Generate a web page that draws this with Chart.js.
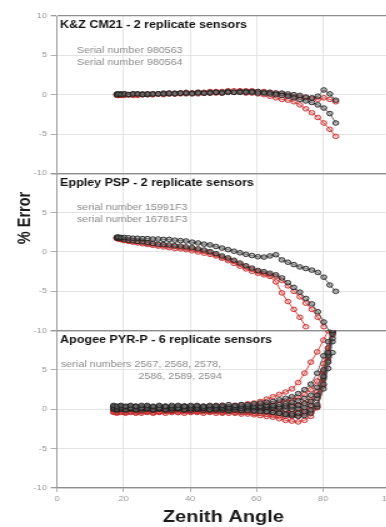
<!DOCTYPE html>
<html><head><meta charset="utf-8">
<script src="https://cdn.jsdelivr.net/npm/chart.js@4"></script>
<style>
html,body{margin:0;padding:0;overflow:hidden;background:#fff;width:386px;height:527px}
#wrap{position:absolute;left:0;top:0;width:320px;height:527px;transform:scaleX(1.25);transform-origin:0 0}
</style></head><body>
<div id="wrap"><canvas id="c"></canvas></div>
<script>
// ---------- data ----------
const xTicks = [0, 20, 40, 60, 80, 100];
const yTicks = [-10, -5, 0, 5, 10];
const panelTitles = ["K&Z CM21 - 2 replicate sensors", "Eppley PSP - 2 replicate sensors", "Apogee PYR-P - 6 replicate sensors"];
const panelNotes = [
  ["Serial number 980563", "Serial number 980564"],
  ["serial number 15991F3", "serial number 16781F3"],
  ["serial numbers 2567, 2568, 2578,", "2586, 2589, 2594"]
];

// zenith angles for the K&Z and Eppley panels
const anglesA = [18,18.5,19.3,20.3,21.5,22.8,24.2,25.7,27.2,28.8,30.4,32,33.7,35.4,37.1,38.8,40.6,42.4,44.2,46,47.8,49.6,51.4,53.2,55,56.8,58.6,60.4,62.2,64,65.8,67.6,69.4,71.2,73,74.8,76.6,78.4,80.2,82,83.8];
// K&Z CM21
const kzBlackA = [0.0,0.1,0.0,0.1,0.0,0.1,0.1,0.0,0.1,0.1,0.1,0.1,0.2,0.1,0.2,0.2,0.1,0.2,0.2,0.2,0.3,0.2,0.3,0.3,0.3,0.3,0.3,0.2,0.2,0.1,0.0,-0.1,-0.2,-0.4,-0.6,-0.8,-1.0,-1.3,-1.7,-2.4,-3.6];
const kzBlackB = [0.1,0.0,0.1,0.1,0.0,0.1,0.1,0.1,0.0,0.1,0.1,0.2,0.1,0.2,0.2,0.2,0.2,0.3,0.2,0.3,0.3,0.3,0.4,0.3,0.4,0.4,0.4,0.4,0.3,0.3,0.2,0.2,0.1,0.0,-0.1,-0.3,-0.4,-0.2,0.6,0.1,-0.7];
const kzRedA = [0.0,-0.1,0.0,-0.1,0.0,0.0,-0.1,0.0,0.0,0.0,0.1,0.0,0.1,0.1,0.1,0.1,0.2,0.1,0.2,0.2,0.2,0.2,0.3,0.3,0.3,0.2,0.2,0.1,0.0,-0.2,-0.4,-0.6,-0.7,-0.9,-1.3,-1.8,-2.3,-2.9,-3.6,-4.4,-5.3];
const kzRedB = [-0.1,0.0,-0.1,0.0,0.0,-0.1,0.0,0.0,0.1,0.0,0.1,0.1,0.2,0.1,0.2,0.3,0.2,0.3,0.3,0.4,0.4,0.4,0.5,0.5,0.5,0.5,0.5,0.4,0.4,0.3,0.2,0.1,-0.1,-0.2,-0.3,-0.4,-0.5,-0.6,-0.4,-0.6,-0.9];
// Eppley PSP
const epBlackA = [1.9,1.9,1.85,1.85,1.8,1.75,1.75,1.7,1.7,1.65,1.65,1.6,1.6,1.5,1.45,1.4,1.25,1.15,1.0,0.9,0.7,0.5,0.3,0.1,-0.1,-0.3,-0.45,-0.6,-0.65,-0.5,-0.35,-1.0,-1.3,-1.6,-1.9,-2.1,-2.3,-2.6,-3.2,-4.2,-5.0];
const epBlackB = [1.8,1.75,1.7,1.6,1.5,1.45,1.35,1.3,1.2,1.1,1.0,0.95,0.9,0.8,0.75,0.65,0.55,0.4,0.25,0.05,-0.2,-0.5,-0.75,-1.05,-1.4,-1.75,-2.05,-2.35,-2.5,-2.7,-2.9,-3.3,-3.9,-4.5,-5.1,-5.9,-6.6,-7.6,-8.9,-10.2,null];
const epRedA = [1.7,1.65,1.55,1.45,1.35,1.25,1.15,1.05,0.95,0.85,0.75,0.65,0.55,0.45,0.4,0.3,0.15,0.0,-0.15,-0.3,-0.5,-0.8,-1.1,-1.45,-1.8,-2.15,-2.45,-2.7,-2.9,-3.1,-3.8,-5.2,-6.3,-7.3,-8.3,-9.5,null,null,null,null,null];
const epRedB = [1.75,1.7,1.6,1.5,1.45,1.35,1.3,1.2,1.1,1.0,0.9,0.85,0.75,0.7,0.6,0.5,0.4,0.25,0.1,-0.1,-0.35,-0.65,-0.9,-1.2,-1.55,-1.9,-2.2,-2.5,-2.7,-2.9,-3.1,-3.6,-4.3,-5.0,-5.7,-6.5,-7.3,-8.3,-9.5,null,null];

// zenith angles for the Apogee panel
const anglesB = [17,18,19.2,20.6,22.1,23.7,25.4,27.1,28.9,30.7,32.6,34.5,36.4,38.3,40.2,42.1,44,45.9,47.8,49.7,51.6,53.5,55.4,57.3,59.2,61.1,63,64.9,66.8,68.7,70.6,72.5,74.4,76.3,78.2,80.1,81.5,82.8];
const apBlack1 = [0.5,0.4,0.5,0.4,0.5,0.4,0.5,0.5,0.4,0.5,0.4,0.5,0.5,0.4,0.5,0.5,0.4,0.5,0.5,0.5,0.6,0.5,0.6,0.6,0.7,0.8,0.9,1.0,1.2,1.4,1.6,2.0,2.5,3.2,4.6,6.8,8.6,10.0];
const apBlack2 = [0.3,0.2,0.3,0.3,0.2,0.3,0.2,0.3,0.3,0.2,0.3,0.3,0.2,0.3,0.3,0.3,0.2,0.3,0.3,0.3,0.3,0.3,0.4,0.4,0.4,0.4,0.5,0.5,0.6,0.7,0.9,1.1,1.4,1.8,2.8,5.0,7.2,9.6];
const apBlack3 = [0.1,0.0,0.1,0.0,0.1,0.0,0.1,0.1,0.0,0.1,0.0,0.1,0.1,0.0,0.1,0.1,0.1,0.0,0.1,0.1,0.1,0.2,0.1,0.2,0.2,0.2,0.3,0.3,0.3,0.4,0.4,0.5,0.7,1.0,1.8,4.2,6.8,9.0];
const apBlack4 = [0.0,-0.1,0.0,-0.1,0.0,-0.1,-0.1,0.0,-0.1,0.0,-0.1,-0.1,0.0,-0.1,-0.1,0.0,-0.1,-0.1,-0.1,-0.1,-0.2,-0.1,-0.2,-0.2,-0.2,-0.3,-0.3,-0.4,-0.5,-0.6,-0.6,-0.5,-0.3,-0.1,0.6,3.2,6.0,8.6];
const apBlack5 = [0.2,0.1,0.2,0.1,0.2,0.1,0.2,0.1,0.1,0.2,0.1,0.1,0.2,0.1,0.1,0.0,0.1,0.0,0.0,0.0,-0.1,0.0,-0.1,-0.1,-0.2,-0.2,-0.3,-0.4,-0.5,-0.7,-0.8,-0.9,-0.8,-0.5,0.3,2.6,5.2,7.2];
const apBlack6 = [0.4,0.3,0.4,0.3,0.4,0.4,0.3,0.4,0.3,0.4,0.4,0.3,0.4,0.4,0.3,0.4,0.4,0.3,0.4,0.3,0.3,0.3,0.3,0.2,0.2,0.2,0.1,0.1,0.1,0.0,0.0,0.1,0.2,0.5,1.4,4.0,7.0,9.8];
const apRed1 = [0.3,0.2,0.3,0.2,0.3,0.2,0.3,0.2,0.3,0.3,0.2,0.3,0.3,0.4,0.3,0.4,0.3,0.4,0.4,0.5,0.4,0.5,0.6,0.7,0.8,1.0,1.3,1.6,1.9,2.2,2.6,3.4,4.6,6.0,7.3,8.8,10.0,null];
const apRed2 = [0.1,0.0,0.1,0.0,0.1,0.1,0.0,0.1,0.0,0.1,0.1,0.0,0.1,0.1,0.0,0.1,0.1,0.2,0.1,0.2,0.2,0.2,0.3,0.3,0.4,0.5,0.6,0.7,0.9,1.0,1.2,1.5,1.9,2.5,3.6,5.8,7.8,9.8];
const apRed3 = [-0.2,-0.3,-0.2,-0.3,-0.2,-0.2,-0.3,-0.2,-0.2,-0.3,-0.2,-0.2,-0.2,-0.1,-0.2,-0.2,-0.1,-0.2,-0.1,-0.2,-0.1,-0.1,-0.1,0.0,0.0,0.1,0.1,0.2,0.3,0.4,0.5,0.6,0.8,1.2,2.2,4.8,7.5,10.1];
const apRed4 = [-0.3,-0.4,-0.3,-0.4,-0.3,-0.4,-0.3,-0.3,-0.4,-0.3,-0.3,-0.3,-0.4,-0.3,-0.3,-0.3,-0.3,-0.3,-0.3,-0.4,-0.3,-0.4,-0.4,-0.4,-0.5,-0.5,-0.6,-0.7,-0.8,-0.9,-0.9,-0.8,-0.6,-0.3,0.4,3.8,6.6,9.4];
const apRed5 = [-0.4,-0.5,-0.4,-0.5,-0.4,-0.5,-0.5,-0.4,-0.5,-0.4,-0.5,-0.4,-0.4,-0.5,-0.4,-0.4,-0.5,-0.4,-0.5,-0.5,-0.5,-0.5,-0.6,-0.6,-0.7,-0.8,-0.9,-1.0,-1.2,-1.4,-1.5,-1.6,-1.4,-0.9,0.2,3.0,6.2,9.8];
const apRed6 = [-0.1,-0.2,-0.1,-0.2,-0.1,-0.2,-0.1,-0.2,-0.1,-0.2,-0.1,-0.2,-0.2,-0.1,-0.2,-0.2,-0.2,-0.2,-0.2,-0.2,-0.2,-0.2,-0.2,-0.2,-0.2,-0.2,-0.2,-0.3,-0.3,-0.3,-0.3,-0.3,-0.1,0.4,1.8,4.6,7.8,10.0];

// ---------- build ----------
const BLACK = '#1e1e1e', BLACK_LINE = '#4a4a4a';
const RED = '#c42424', RED_LINE = '#e01818';
function series(label, xs, ys, axis, red) {
  const pts = [];
  xs.forEach((x, i) => { if (ys[i] !== null && ys[i] !== undefined) pts.push({x: x, y: ys[i]}); });
  return {
    label: label, data: pts, yAxisID: axis,
    borderColor: red ? RED_LINE : BLACK_LINE, borderWidth: 0.8,
    pointRadius: 2.3, pointBorderWidth: 0.9, pointHoverRadius: 2.3,
    pointBorderColor: red ? RED : BLACK,
    pointBackgroundColor: red ? 'rgba(220,140,140,0.3)' : 'rgba(120,120,120,0.45)',
    tension: 0, fill: false
  };
}
const datasets = [
  series('K&Z A', anglesA, kzBlackA, 'y1', false),
  series('K&Z B', anglesA, kzBlackB, 'y1', false),
  series('Eppley A', anglesA, epBlackA, 'y2', false),
  series('Eppley B', anglesA, epBlackB, 'y2', false),
  series('Apogee 1', anglesB, apBlack1, 'y3', false),
  series('Apogee 2', anglesB, apBlack2, 'y3', false),
  series('Apogee 3', anglesB, apBlack3, 'y3', false),
  series('Apogee 4', anglesB, apBlack4, 'y3', false),
  series('Apogee 5', anglesB, apBlack5, 'y3', false),
  series('Apogee 6', anglesB, apBlack6, 'y3', false),
  series('K&Z A red', anglesA, kzRedA, 'y1', true),
  series('K&Z B red', anglesA, kzRedB, 'y1', true),
  series('Eppley A red', anglesA, epRedA, 'y2', true),
  series('Eppley B red', anglesA, epRedB, 'y2', true),
  series('Apogee 1 red', anglesB, apRed1, 'y3', true),
  series('Apogee 2 red', anglesB, apRed2, 'y3', true),
  series('Apogee 3 red', anglesB, apRed3, 'y3', true),
  series('Apogee 4 red', anglesB, apRed4, 'y3', true),
  series('Apogee 5 red', anglesB, apRed5, 'y3', true),
  series('Apogee 6 red', anglesB, apRed6, 'y3', true)
];

function yScale(idx, weight) {
  return {
    type: 'linear', position: 'left', stack: 'panels', stackWeight: 1, weight: weight,
    min: yTicks[0], max: yTicks[yTicks.length - 1],
    afterBuildTicks: s => { s.ticks = yTicks.map(v => ({value: v})); },
    afterFit: s => { s.width = 45.6; },
    border: {color: '#9a9a9a', width: 1},
    grid: {
      color: c => (c.tick && Math.abs(c.tick.value) === 10) ? '#8e8e8e' : '#dddddd',
      lineWidth: c => (c.tick && Math.abs(c.tick.value) === 10) ? 1.3 : 0.8,
      tickColor: '#9a9a9a', tickLength: 5
    },
    ticks: {
      color: '#9a9a9a', font: {family: 'Liberation Sans, Arial, sans-serif', size: 7.5}, padding: 3,
      callback: v => (idx > 0 && v === 10) ? '' : String(v)
    }
  };
}

const textPlugin = {
  id: 'panelText',
  afterDraw(chart) {
    const ctx = chart.ctx, xs = chart.scales.x, ca = chart.chartArea;
    const axes = [chart.scales.y1, chart.scales.y2, chart.scales.y3];
    ctx.save();
    ctx.textBaseline = 'middle';
    axes.forEach((ys, i) => {
      ctx.fillStyle = '#111';
      ctx.textAlign = 'left';
      ctx.font = 'bold 10px "Liberation Sans", Arial, sans-serif';
      ctx.fillText(panelTitles[i], ca.left + 2.5, ys.getPixelForValue(8.8));
      ctx.fillStyle = '#8a8a8a';
      ctx.font = '8.6px "Liberation Sans", Arial, sans-serif';
      if (i < 2) {
        ctx.fillText(panelNotes[i][0], xs.getPixelForValue(6), ys.getPixelForValue(5.6));
        ctx.fillText(panelNotes[i][1], xs.getPixelForValue(6), ys.getPixelForValue(4.1));
      } else {
        ctx.fillText(panelNotes[i][0], xs.getPixelForValue(1.2), ys.getPixelForValue(5.7));
        ctx.textAlign = 'right';
        ctx.fillText(panelNotes[i][1], xs.getPixelForValue(49.6), ys.getPixelForValue(4.2));
      }
    });
    // y-axis title
    ctx.translate(20, (ca.top + ca.bottom) / 2 - 34);
    ctx.rotate(-Math.PI / 2);
    ctx.textAlign = 'center';
    ctx.fillStyle = '#1a1a1a';
    ctx.font = 'bold 14.5px "Liberation Sans", Arial, sans-serif';
    ctx.fillText('% Error', 0, 0);
    ctx.restore();
  }
};

new Chart(document.getElementById('c'), {
  type: 'line',
  data: {datasets: datasets},
  options: {
    responsive: true, maintainAspectRatio: false, animation: false,
    layout: {padding: {left: 0, right: 8, top: 16, bottom: 0}},
    plugins: {legend: {display: false}, tooltip: {enabled: false}, title: {display: false}},
    scales: {
      x: {
        type: 'linear', position: 'bottom', min: xTicks[0], max: xTicks[xTicks.length - 1],
        afterBuildTicks: s => { s.ticks = xTicks.map(v => ({value: v})); },
        afterFit: s => { s.height = 39; },
        border: {color: '#8e8e8e', width: 1.3},
        grid: {color: '#dddddd', lineWidth: 0.8, tickColor: '#9a9a9a', tickLength: 4},
        ticks: {color: '#9a9a9a', font: {family: 'Liberation Sans, Arial, sans-serif', size: 7.5}, padding: 2, maxRotation: 0},
        title: {display: true, text: 'Zenith Angle', color: '#1a1a1a', padding: {top: 0, bottom: 0},
                font: {family: 'Liberation Sans, Arial, sans-serif', size: 16, weight: 'bold'}}
      },
      y1: yScale(0, 3),
      y2: yScale(1, 2),
      y3: yScale(2, 1)
    }
  },
  plugins: [textPlugin]
});
</script>
</body></html>
